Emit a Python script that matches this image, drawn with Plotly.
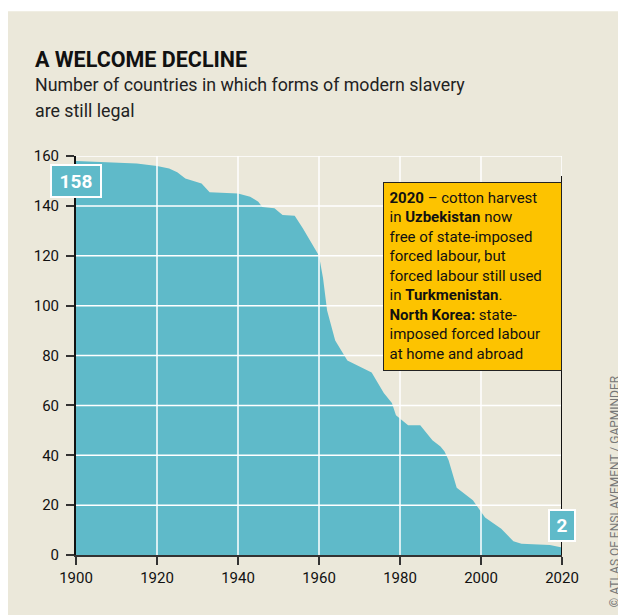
import plotly.graph_objects as go

years = [1900, 1910, 1915, 1920, 1923, 1925, 1927, 1931, 1933, 1940, 1943, 1945, 1946,
         1949, 1951, 1954, 1956, 1960, 1961, 1962, 1964, 1967, 1973, 1976, 1978, 1979,
         1982, 1985, 1988, 1990, 1991, 1992, 1994, 1998, 2000, 2001, 2005, 2008, 2010,
         2017, 2020]
countries = [158, 157.5, 157, 156, 155, 153.5, 151, 149, 145.5, 145, 143.7, 141.7, 139.5,
             139, 136.3, 136, 131, 120, 111, 98, 86, 78, 73.2, 65, 61, 56,
             52, 52, 46, 43.5, 41.5, 38, 27, 22, 17.5, 15, 10.5, 5.5, 4.5,
             4, 3]
x_ticks = [1900, 1920, 1940, 1960, 1980, 2000, 2020]
y_ticks = [0, 20, 40, 60, 80, 100, 120, 140, 160]
start_label = "158"
end_label = "2"
title_text = "<b>A WELCOME DECLINE</b>"
subtitle_lines = ["Number of countries in which forms of modern slavery", "are still legal"]
note_text = ("<b>2020</b> – cotton harvest<br>in <b>Uzbekistan</b> now<br>free of state-imposed"
             "<br>forced labour, but<br>forced labour still used<br>in <b>Turkmenistan</b>."
             "<br><b>North Korea:</b> state-<br>imposed forced labour<br>at home and abroad")
credit_text = "© ATLAS OF ENSLAVEMENT / GAPMINDER"

TEAL = "#5fbac9"
BEIGE = "#ebe8da"
GOLD = "#fdc300"
FONT = "Roboto"

fig = go.Figure()
fig.add_trace(go.Scatter(x=years, y=countries, mode="lines", fill="tozeroy",
                         fillcolor=TEAL, line=dict(width=0, color=TEAL),
                         hoverinfo="skip", showlegend=False))

shapes = []
# beige panel
shapes.append(dict(type="rect", xref="paper", yref="paper", x0=-0.142, x1=1.20,
                   y0=-0.20, y1=1.363, fillcolor=BEIGE, line=dict(width=0), layer="below"))
# gridlines above area
for xv in x_ticks[1:]:
    shapes.append(dict(type="line", xref="x", yref="y", x0=xv, x1=xv, y0=0, y1=y_ticks[-1],
                       line=dict(color="white", width=1.5), layer="above"))
for yv in y_ticks[1:]:
    shapes.append(dict(type="line", xref="x", yref="y", x0=x_ticks[0], x1=x_ticks[-1], y0=yv, y1=yv,
                       line=dict(color="white", width=1.5), layer="above"))
# black marker line at 2020
shapes.append(dict(type="line", xref="x", yref="y", x0=x_ticks[-1], x1=x_ticks[-1], y0=0, y1=152,
                   line=dict(color="#111", width=2), layer="above"))

annotations = [
    dict(xref="paper", yref="paper", x=-0.088, y=1.279, xanchor="left", yanchor="top",
         text=title_text, showarrow=False,
         font=dict(family=FONT, size=21.5, color="#111")),
    dict(xref="paper", yref="paper", x=-0.088, y=1.2103, xanchor="left", yanchor="top",
         text=subtitle_lines[0], showarrow=False, align="left",
         font=dict(family=FONT, size=17.8, color="#222")),
    dict(xref="paper", yref="paper", x=-0.088, y=1.1444, xanchor="left", yanchor="top",
         text=subtitle_lines[1], showarrow=False, align="left",
         font=dict(family=FONT, size=17.8, color="#222")),
    dict(xref="x", yref="y", x=x_ticks[-1], y=149.6, xanchor="right", yanchor="top",
         text=note_text,
         showarrow=False, align="left", valign="top", bgcolor=GOLD, bordercolor="#222",
         borderwidth=1, borderpad=5.5, width=166, height=176,
         font=dict(family=FONT, size=15, color="#111")),
    dict(xref="x", yref="y", x=years[0], y=150, xanchor="center", yanchor="middle",
         text="<b>" + start_label + "</b>", showarrow=False, bgcolor=TEAL, bordercolor="white",
         borderwidth=2, borderpad=3, width=42, height=24,
         font=dict(family=FONT, size=19, color="white")),
    dict(xref="x", yref="y", x=years[-1], y=11.8, xanchor="center", yanchor="middle",
         text="<b>" + end_label + "</b>", showarrow=False, bgcolor=TEAL, bordercolor="white",
         borderwidth=2, borderpad=2, width=20, height=25,
         font=dict(family=FONT, size=19, color="white")),
    dict(xref="paper", yref="paper", x=1.109, y=0.16, xanchor="center", yanchor="middle",
         text=credit_text, textangle=-90, showarrow=False,
         font=dict(family=FONT, size=12, color="#777")),
]

fig.update_layout(
    width=626, height=615,
    margin=dict(l=68, r=72, t=148, b=68, pad=0, autoexpand=False),
    paper_bgcolor="white", plot_bgcolor=BEIGE,
    showlegend=False,
    shapes=shapes, annotations=annotations,
    font=dict(family=FONT, size=13, color="#111"),
    xaxis=dict(range=[x_ticks[0], x_ticks[-1]], tickvals=x_ticks, ticktext=[str(v) for v in x_ticks],
               showgrid=False, zeroline=False, showline=True, linecolor="#333", linewidth=2,
               ticks="outside", ticklen=8, tickwidth=1.5, tickcolor="#333",
               tickfont=dict(family=FONT, size=15, color="#111"), layer="above traces"),
    yaxis=dict(range=[y_ticks[0], y_ticks[-1]], tickvals=y_ticks, ticktext=[str(v) for v in y_ticks],
               showgrid=False, zeroline=False, showline=True, linecolor="#111", linewidth=2,
               ticks="outside", ticklen=8, tickwidth=1.5, tickcolor="#333", ticklabelstandoff=4,
               tickfont=dict(family=FONT, size=15, color="#111"), layer="above traces"),
)

fig.write_html("out.html")
